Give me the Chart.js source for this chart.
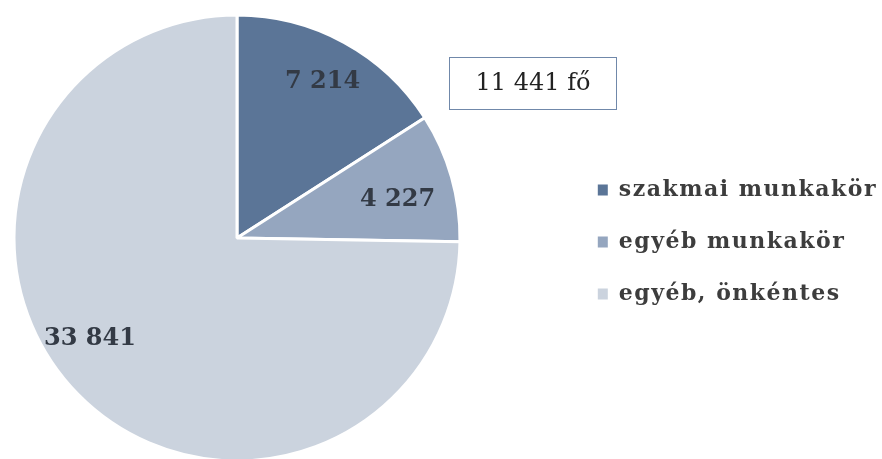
<!DOCTYPE html>
<html>
<head>
<meta charset="utf-8">
<script src="https://cdn.jsdelivr.net/npm/chart.js@4/dist/chart.umd.min.js"></script>
<style>
  html, body { margin: 0; padding: 0; background: #fff; overflow: hidden; }
  #wrap { width: 882px; height: 459px; position: relative; }
</style>
</head>
<body>
<div id="wrap"><canvas id="pie"></canvas></div>
<script>
// --- datos ---
const categorias = ["szakmai munkakör", "egyéb munkakör", "egyéb, önkéntes"];
const valores = [7214, 4227, 33841];
const etiquetas = ["7 214", "4 227", "33 841"];
const colores = ["#5b7597", "#95a6bf", "#cbd3de"];
const cajaTexto = "11 441 fő";

// ajuste de posición de las etiquetas (grados, fracción del radio)
const labelAng = [0, 2.5, 10];
const labelRad = [0.8, 0.74, 0.8];

const ANCHO_PIE = 474; // el pastel ocupa 0..474, la leyenda queda a la derecha

const espaciado = {
  id: "espaciado",
  beforeLayout(chart) {
    chart.ctx.letterSpacing = "1.5px";
    const lg = chart.legend;
    if (lg && !lg._parcheado) {
      const fit = lg.fit;
      lg.fit = function () {
        fit.call(this);
        this._anchoNatural = this.width;
        this.width = Math.max(this.width, chart.width - ANCHO_PIE);
      };
      lg._parcheado = true;
    }
  },
  afterLayout(chart) {
    const lg = chart.legend;
    if (lg && lg._anchoNatural) {
      lg.left = chart.width - lg._anchoNatural + 5;
      lg.top += 4;
      lg.bottom += 4;
    }
  },
  beforeDraw(chart) { chart.ctx.letterSpacing = "1.5px"; }
};

const valoresPie = {
  id: "valoresPie",
  afterDatasetsDraw(chart) {
    const ctx = chart.ctx;
    const arcs = chart.getDatasetMeta(0).data;
    ctx.save();
    ctx.letterSpacing = "0px";
    ctx.font = "bold 24px 'DejaVu Serif'";
    ctx.fillStyle = "#333a45";
    ctx.textAlign = "center";
    ctx.textBaseline = "middle";
    arcs.forEach((a, i) => {
      const mid = (a.startAngle + a.endAngle) / 2 + labelAng[i] * Math.PI / 180;
      const r = a.outerRadius * labelRad[i];
      ctx.fillText(etiquetas[i], a.x + Math.cos(mid) * r, a.y + Math.sin(mid) * r);
    });
    ctx.restore();
  },
  afterDraw(chart) {
    const ctx = chart.ctx;
    ctx.save();
    ctx.letterSpacing = "0px";
    ctx.fillStyle = "#fff";
    ctx.fillRect(449.5, 57.5, 167, 52);
    ctx.strokeStyle = "#7088aa";
    ctx.lineWidth = 1;
    ctx.strokeRect(449.5, 57.5, 167, 52);
    ctx.font = "24px 'DejaVu Serif'";
    ctx.fillStyle = "#222";
    ctx.textAlign = "center";
    ctx.textBaseline = "middle";
    ctx.fillText(cajaTexto, 533, 84);
    ctx.restore();
  }
};

new Chart(document.getElementById("pie"), {
  type: "pie",
  data: {
    labels: categorias,
    datasets: [{
      data: valores,
      backgroundColor: colores,
      borderColor: "#ffffff",
      borderWidth: 3,
      radius: 223
    }]
  },
  options: {
    responsive: true,
    maintainAspectRatio: false,
    animation: false,
    layout: { padding: { left: 0, top: 17, bottom: 0, right: 0 } },
    plugins: {
      tooltip: { enabled: false },
      legend: {
        position: "right",
        align: "center",
        labels: {
          boxWidth: 10,
          boxHeight: 11,
          padding: 30,
          color: "#3d3d3d",
          font: { family: "'DejaVu Serif'", size: 22, weight: "bold" },
          generateLabels(chart) {
            const base = Chart.overrides.pie.plugins.legend.labels.generateLabels(chart);
            return base.map(l => Object.assign(l, { lineWidth: 0 }));
          }
        }
      }
    }
  },
  plugins: [espaciado, valoresPie]
});
</script>
</body>
</html>
